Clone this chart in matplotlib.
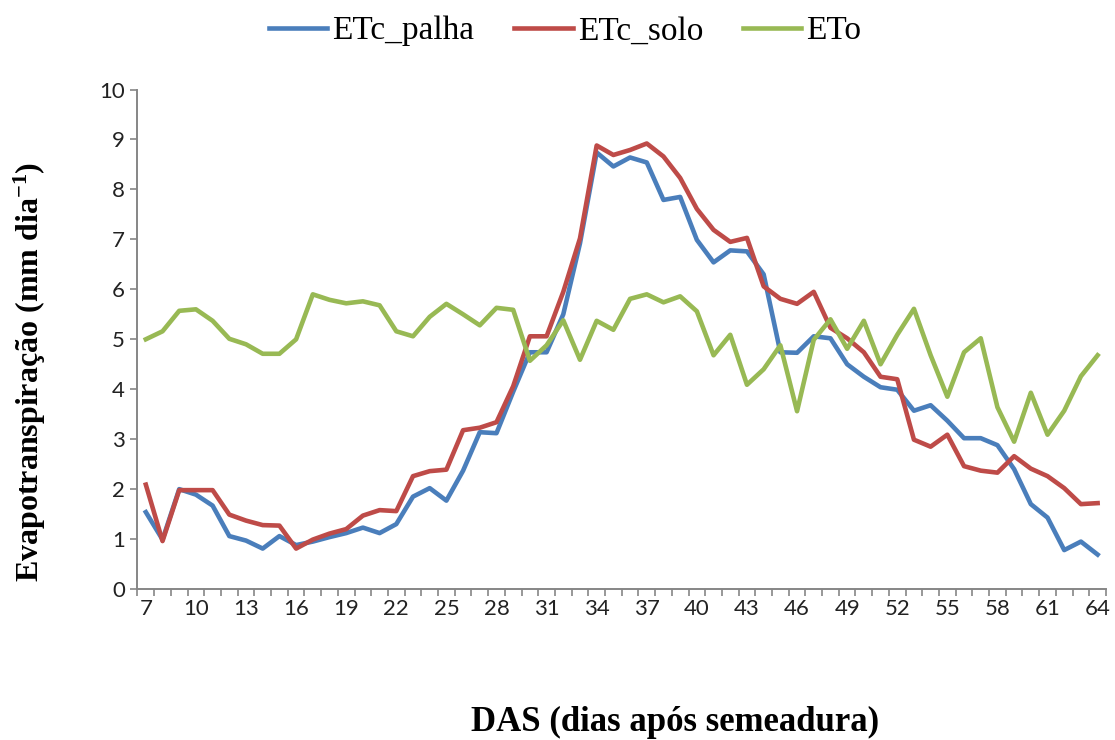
import matplotlib.pyplot as plt

das = list(range(7, 65))

etc_palha = [1.54, 0.99, 2.00, 1.89, 1.67, 1.06, 0.97, 0.81, 1.06, 0.88,
             0.95, 1.04, 1.12, 1.23, 1.12, 1.30, 1.85, 2.02, 1.77, 2.37,
             3.14, 3.12, 3.95, 4.74, 4.74, 5.50, 6.92, 8.74, 8.46, 8.64,
             8.54, 7.79, 7.85, 6.99, 6.54, 6.78, 6.76, 6.30, 4.74, 4.73,
             5.06, 5.02, 4.50, 4.25, 4.04, 3.99, 3.57, 3.68, 3.37, 3.02,
             3.02, 2.88, 2.40, 1.70, 1.43, 0.78, 0.95, 0.69]

etc_solo = [2.09, 0.96, 1.98, 1.98, 1.98, 1.49, 1.37, 1.28, 1.27, 0.81,
            0.99, 1.11, 1.20, 1.47, 1.58, 1.56, 2.26, 2.36, 2.39, 3.18,
            3.23, 3.34, 4.06, 5.06, 5.06, 5.95, 7.02, 8.88, 8.69, 8.79,
            8.92, 8.66, 8.23, 7.61, 7.19, 6.95, 7.03, 6.06, 5.81, 5.71,
            5.95, 5.23, 5.02, 4.74, 4.25, 4.20, 2.99, 2.85, 3.09, 2.46,
            2.37, 2.33, 2.66, 2.41, 2.26, 2.02, 1.70, 1.72]

eto = [5.00, 5.16, 5.57, 5.60, 5.37, 5.01, 4.90, 4.71, 4.71, 5.00,
       5.90, 5.79, 5.72, 5.76, 5.68, 5.16, 5.06, 5.45, 5.71, 5.50,
       5.28, 5.63, 5.59, 4.57, 4.88, 5.38, 4.59, 5.37, 5.19, 5.81,
       5.90, 5.74, 5.86, 5.56, 4.68, 5.09, 4.09, 4.40, 4.88, 3.56,
       4.99, 5.40, 4.81, 5.37, 4.50, 5.09, 5.61, 4.68, 3.85, 4.74,
       5.02, 3.64, 2.95, 3.93, 3.09, 3.57, 4.26, 4.68]

serif = "Liberation Serif"
grey = "#868686"

plt.rcParams["mathtext.fontset"] = "custom"
plt.rcParams["mathtext.rm"] = "Liberation Serif:bold"
plt.rcParams["mathtext.default"] = "rm"

fig = plt.figure(figsize=(11.15, 7.4), dpi=100)
ax = fig.add_axes([0.1233, 0.204, 0.8686, 0.675])

ax.plot(das, etc_palha, color="#4A7EBB", lw=3.3, label="ETc_palha", solid_joinstyle="round")
ax.plot(das, etc_solo, color="#BE4B48", lw=3.3, label="ETc_solo", solid_joinstyle="round")
ax.plot(das, eto, color="#98B954", lw=3.3, label="ETo", solid_joinstyle="round")

ax.set_xlim(6.5, 64.5)
ax.set_ylim(0, 10)
ax.set_yticks(range(0, 11))
ax.set_xticks(das[::3])
ax.set_xticks([d - 0.5 for d in das] + [64.5], minor=True)

for s in ["top", "right"]:
    ax.spines[s].set_visible(False)
for s in ["left", "bottom"]:
    ax.spines[s].set_color(grey)
    ax.spines[s].set_linewidth(1.4)

ax.tick_params(axis="y", direction="out", length=5, width=1.2, color=grey,
               pad=4, labelsize=16, labelcolor="#222222")
ax.tick_params(axis="x", which="major", length=0, pad=7, labelsize=16, labelcolor="#222222")
ax.tick_params(axis="x", which="minor", direction="out", length=5, width=1.2, color=grey)
for lab in ax.get_xticklabels() + ax.get_yticklabels():
    lab.set_fontfamily("Lato")

fig.text(0.027, 0.497, "Evapotranspiração (mm dia$^{-1}$)", rotation=90,
         ha="center", va="center", fontsize=23, fontweight="bold", family=serif)
fig.text(0.605, 0.024, "DAS (dias após semeadura)", ha="center", va="center",
         fontsize=25, fontweight="bold", family=serif)

fig.legend(loc="center", bbox_to_anchor=(0.507, 0.958), ncol=3, frameon=False,
           prop={"family": serif, "size": 24}, handlelength=1.75, handletextpad=0.15,
           columnspacing=1.2)

plt.savefig("out.png", dpi=100)
